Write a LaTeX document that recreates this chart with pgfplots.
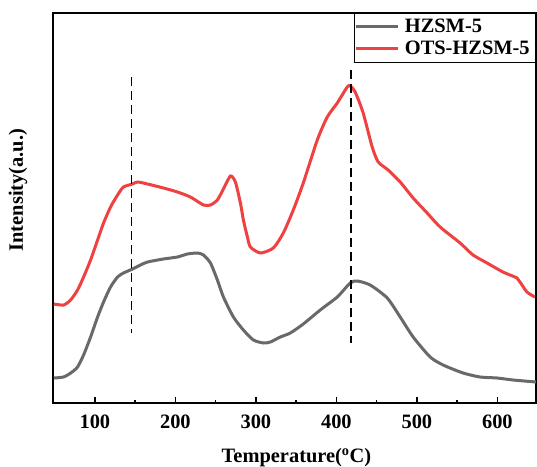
\documentclass[border=0pt]{standalone}
\usepackage{pgfplots}
\pgfplotsset{compat=1.18}
\usepackage{fontspec}
\setmainfont{Liberation Serif}
\definecolor{cgray}{RGB}{105,105,105}
\definecolor{cred}{RGB}{240,65,65}
\newcommand{\fs}{\fontsize{20.5}{24}\selectfont\bfseries}
\begin{document}
\begin{tikzpicture}
\begin{axis}[
  name=ax,
  scale only axis, width=483bp, height=390bp,
  xmin=48, xmax=648, ymin=0, ymax=390,
  axis line style={line width=1.8bp},
  xtick={100,200,300,400,500,600},
  minor xtick={150,250,350,450,550},
  xtick pos=bottom, tick align=inside,
  major tick length=6bp, minor tick length=3bp,
  every tick/.style={black, line width=1.5bp},
  ytick=\empty,
  /pgf/number format/assume math mode=true,
  xticklabel style={font=\fs, yshift=-8bp},
  xlabel={Temperature(\textsuperscript{o}C)},
  ylabel={Intensity(a.u.)},
  xlabel style={font=\fs, at={(axis description cs:0.504,-0.141)}, anchor=center},
  ylabel style={font=\fs, at={(axis description cs:-0.0725,0.546)}, anchor=center},
  legend style={font=\fs, at={(rel axis cs:1,1)}, anchor=north east, draw=black, line width=0.6bp,
    inner xsep=1bp, inner ysep=4bp, row sep=3bp,
    nodes={inner xsep=5bp}},
  legend cell align=left,
  legend image code/.code={\draw[#1, line width=3bp] (-2bp,0bp) -- (40bp,0bp);},
]
\addplot[cgray, line width=3bp, smooth, tension=0.4] coordinates {
(49,25) (61,26) (70,30) (78.5,36) (86,48) (94.7,66) (103.4,86) (110.8,101) (119.5,116) (128.2,126) (135.6,130) (146.8,134) (156.7,138) (165.4,141) (185.2,144) (202.6,146) (215,149) (227.4,150) (234.9,148) (243.6,140) (252.2,123) (259.7,106) (272.1,86) (284.5,73) (296.9,63) (309.3,60) (318,61) (330.4,66) (342.8,70) (358.9,79) (380,93) (401.1,106) (417.2,120) (425.9,122) (442,118) (463.2,105) (479.3,86) (495.4,66) (516.5,46) (532.6,38) (557.4,30) (578.5,26) (599.6,25) (619.5,23) (648,21)
};
\addlegendentry{HZSM-5}
\addplot[cred, line width=3bp, smooth, tension=0.4] coordinates {
(49,99) (61.2,98) (69.9,103) (78.5,113) (86,126) (94.7,143) (103.4,163) (110.8,180) (119.5,196) (128.2,208) (135.6,216) (146.8,219) (153,221) (165.4,219) (185.2,215) (202.6,211) (218.7,206) (234.9,198) (243.6,198) (252.2,203) (259.7,214) (268.4,227) (274.6,221) (280.8,200) (284.5,183) (289.5,166) (293.2,156) (305.6,150) (321.7,155) (334.1,170) (346.5,193) (358.9,220) (376.3,263) (388.7,286) (401.1,300) (413.5,316) (417.2,317) (423.4,311) (433.3,290) (444.5,256) (452,241) (464.3,233) (479.3,221) (495.4,205) (512.8,190) (528.9,176) (553.7,160) (569.8,148) (587.2,140) (607,131) (624.4,125) (628.1,121) (636.8,111) (646.7,106)
};
\addlegendentry{OTS-HZSM-5}
\addplot[black, line width=1.8bp, dash pattern=on 9bp off 5bp, forget plot] coordinates {(145.5,326) (145.5,70)};
\addplot[black, line width=1.8bp, dash pattern=on 9bp off 5bp, forget plot] coordinates {(418.5,333) (418.5,60)};
\end{axis}
\pgfresetboundingbox
\path ([shift={(-53bp,-64bp)}]ax.south west) rectangle ([shift={(1bp,13bp)}]ax.north east);
\end{tikzpicture}
\end{document}
